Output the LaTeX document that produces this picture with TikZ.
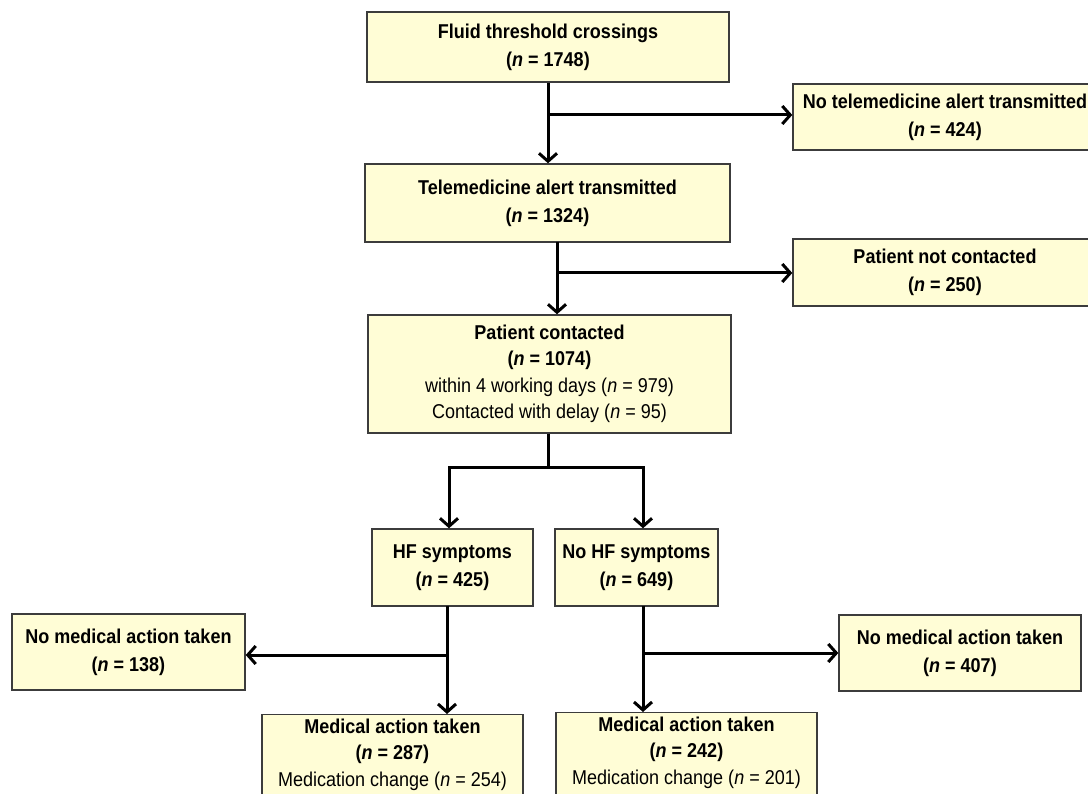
\documentclass[tikz,border=0pt]{standalone}
\usepackage{fontspec}
\setmainfont{Liberation Sans}[FakeStretch=0.9]
\usetikzlibrary{arrows.meta}
\definecolor{boxfill}{RGB}{255,253,214}
\definecolor{boxline}{RGB}{60,60,60}
\tikzset{
  box/.style={draw=boxline, line width=1.4pt, fill=boxfill, inner sep=0pt, align=center,
    font=\fontsize{20}{28}\selectfont},
  arr/.style={line width=3pt, -{Straight Barb[length=8pt,width=18pt]}},
  ln/.style={line width=3pt}
}
\newcommand{\nn}{\textit{n}}
\begin{document}
\begin{tikzpicture}[x=1pt,y=-1pt]
\useasboundingbox (0,0) rectangle (1088,794);
\fill[white] (0,0) rectangle (1088,794);
\node[box, minimum width=362pt, minimum height=70pt] (b1) at (548,47) {\bfseries Fluid threshold crossings\\ \bfseries(\nn{} = 1748)};
\node[box, minimum width=304pt, minimum height=66pt] (b2) at (945,117) {\bfseries No telemedicine alert transmitted\\ \bfseries(\nn{} = 424)};
\node[box, minimum width=365pt, minimum height=78pt] (b3) at (547.5,203) {\bfseries Telemedicine alert transmitted\\ \bfseries(\nn{} = 1324)};
\node[box, minimum width=304pt, minimum height=67pt] (b4) at (945,272.5) {\bfseries Patient not contacted\\ \bfseries(\nn{} = 250)};
\node[box, minimum width=363pt, minimum height=118pt, font=\fontsize{20}{26.5}\selectfont] (b5) at (549.5,374) {\bfseries Patient contacted\\ \bfseries(\nn{} = 1074)\\ within 4 working days (\nn{} = 979)\\ Contacted with delay (\nn{} = 95)};
\node[box, minimum width=161pt, minimum height=77pt] (b6) at (452.5,567.5) {\bfseries HF symptoms\\ \bfseries(\nn{} = 425)};
\node[box, minimum width=163pt, minimum height=77pt] (b7) at (636.5,567.5) {\bfseries No HF symptoms\\ \bfseries(\nn{} = 649)};
\node[box, minimum width=233pt, minimum height=76pt] (b8) at (128.5,652) {\bfseries No medical action taken\\ \bfseries(\nn{} = 138)};
\node[box, minimum width=242pt, minimum height=76pt] (b9) at (960,653) {\bfseries No medical action taken\\ \bfseries(\nn{} = 407)};
\node[box, anchor=north, font=\fontsize{20}{26.5}\selectfont] (b10) at (392.5,714) {\parbox[c][110pt][t]{261pt}{\centering\vspace{4pt}\bfseries Medical action taken\\ (\nn{} = 287)\\ \mdseries Medication change (\nn{} = 254)}};
\node[box, anchor=north, font=\fontsize{20}{26.5}\selectfont] (b11) at (686.5,712) {\parbox[c][110pt][t]{261pt}{\centering\vspace{4pt}\bfseries Medical action taken\\ (\nn{} = 242)\\ \mdseries Medication change (\nn{} = 201)}};
% connectors
\coordinate (j1) at (548,115);
\draw[arr] (b1.south) -- (b1.south |- b3.north);
\draw[arr] (j1) -- (j1 -| b2.west);
\coordinate (s3) at (557,242);
\coordinate (j2) at (557,273);
\draw[arr] (s3) -- (s3 |- b5.north);
\draw[arr] (j2) -- (j2 -| b4.west);
\coordinate (j3) at (548,468);
\coordinate (l3) at (449,468);
\coordinate (r3) at (643,468);
\draw[ln] (j3 |- b5.south) -- (j3);
\draw[ln, line cap=rect] (l3) -- (r3);
\draw[arr] (l3) -- (l3 |- b6.north);
\draw[arr] (r3) -- (r3 |- b7.north);
\coordinate (s6) at (447,606);
\coordinate (j6) at (447,655);
\draw[arr] (s6) -- (s6 |- b10.north);
\draw[arr] (j6) -- (j6 -| b8.east);
\coordinate (s7) at (643,606);
\coordinate (j7) at (643,653);
\draw[arr] (s7) -- (s7 |- b11.north);
\draw[arr] (j7) -- (j7 -| b9.west);
\end{tikzpicture}
\end{document}
